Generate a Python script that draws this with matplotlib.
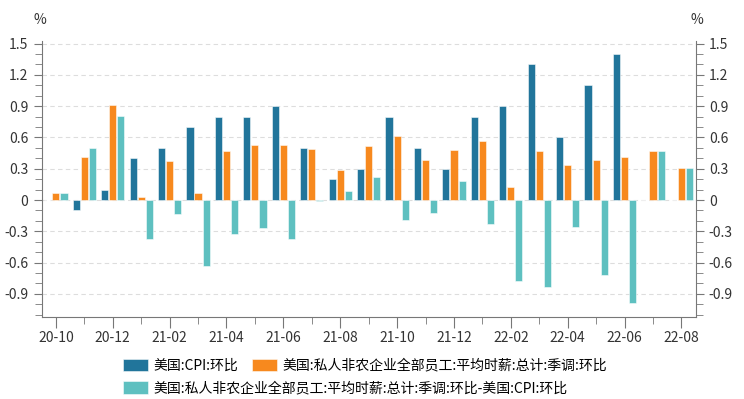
import matplotlib
matplotlib.use("Agg")
import matplotlib.pyplot as plt
import numpy as np
from matplotlib.ticker import MultipleLocator, FixedLocator

plt.rcParams['font.family'] = ['Noto Sans CJK SC', 'DejaVu Sans']

months = ["20-10", "20-11", "20-12", "21-01", "21-02", "21-03", "21-04", "21-05",
          "21-06", "21-07", "21-08", "21-09", "21-10", "21-11", "21-12", "22-01",
          "22-02", "22-03", "22-04", "22-05", "22-06", "22-07", "22-08"]
cpi = [0.0, -0.1, 0.1, 0.4, 0.5, 0.7, 0.8, 0.8, 0.9, 0.5, 0.2, 0.3, 0.8, 0.5, 0.3, 0.8,
       0.9, 1.3, 0.6, 1.1, 1.4, 0.0, 0.0]
wage = [0.07, 0.41, 0.91, 0.03, 0.37, 0.07, 0.47, 0.53, 0.53, 0.49, 0.29, 0.52, 0.61,
        0.38, 0.48, 0.57, 0.12, 0.47, 0.34, 0.38, 0.41, 0.47, 0.31]
diff = [0.07, 0.50, 0.81, -0.37, -0.13, -0.63, -0.33, -0.27, -0.37, -0.01, 0.09, 0.22,
        -0.19, -0.12, 0.18, -0.23, -0.78, -0.83, -0.26, -0.72, -0.99, 0.47, 0.31]

names = ["美国:CPI:环比", "美国:私人非农企业全部员工:平均时薪:总计:季调:环比",
         "美国:私人非农企业全部员工:平均时薪:总计:季调:环比-美国:CPI:环比"]
colors = ["#21759b", "#f7891e", "#5ec0c0"]

fig = plt.figure(figsize=(7.44, 3.99), dpi=100)
ax = fig.add_axes([0.056, 0.206, 0.879, 0.69])

x = np.arange(len(months))
w = 0.25
off = 0.285
for vals, o, c, n in zip([cpi, wage, diff], [-off, 0, off], colors, names):
    ax.bar(x + o, vals, width=w, color=c, edgecolor=(1, 1, 1, 0.6), linewidth=0.6,
           label=n, zorder=3)

ax.set_xlim(-0.5, len(months) - 0.5)
ax.set_ylim(-1.12, 1.52)
ax.yaxis.set_major_locator(FixedLocator([-0.9, -0.6, -0.3, 0, 0.3, 0.6, 0.9, 1.2, 1.5]))
ax.yaxis.set_minor_locator(MultipleLocator(0.1))
ax.set_yticklabels(["-0.9", "-0.6", "-0.3", "0", "0.3", "0.6", "0.9", "1.2", "1.5"])
ax.grid(axis='y', color='#dddddd', linestyle=(0, (4, 3)), linewidth=0.8, zorder=0)

ax.set_xticks(x[::2])
ax.set_xticklabels(months[::2])
ax.set_xticks(x[1::2], minor=True)

ax.tick_params(axis='both', which='both', colors='#777777', labelcolor='#333333',
               labelsize=10)
ax.tick_params(axis='x', which='major', length=8, pad=2)
ax.tick_params(axis='x', which='minor', length=5)
ax.tick_params(axis='y', which='major', length=6, right=True, labelright=True)
ax.tick_params(axis='y', which='minor', length=5, right=True)

ax.spines['top'].set_visible(False)
for s in ['left', 'right', 'bottom']:
    ax.spines[s].set_color('#777777')

fig.text(0.054, 0.94, "%", fontsize=10, color='#333333', ha='center')
fig.text(0.937, 0.94, "%", fontsize=10, color='#333333', ha='center')

handles, labels = ax.get_legend_handles_labels()
fig.legend(handles[:2], labels[:2], loc='center left', bbox_to_anchor=(0.165, 0.083),
           ncol=2, frameon=False, fontsize=10, handlelength=1.8, handleheight=1.0,
           handletextpad=0.4, columnspacing=1.0, borderpad=0, borderaxespad=0)
fig.legend(handles[2:], labels[2:], loc='center left', bbox_to_anchor=(0.165, 0.027),
           ncol=1, frameon=False, fontsize=10, handlelength=1.8, handleheight=1.0,
           handletextpad=0.4, borderpad=0, borderaxespad=0)

fig.savefig("out.png", dpi=100)
